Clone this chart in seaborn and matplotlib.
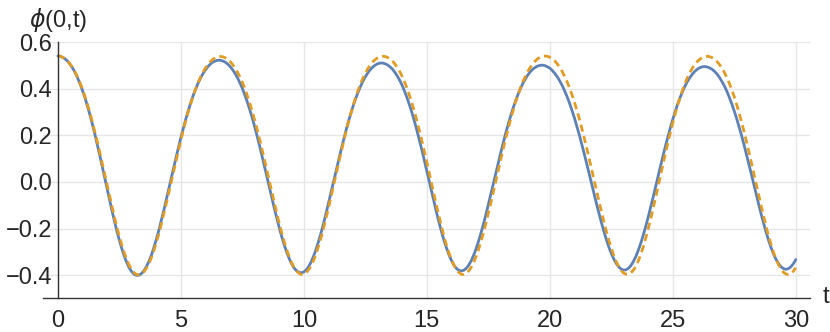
import numpy as np
import pandas as pd
import matplotlib
matplotlib.use("Agg")
import matplotlib.pyplot as plt
import seaborn as sns
from matplotlib.ticker import MultipleLocator

# time samples (t = 0 ... 30, step 0.1)
t_values = np.linspace(0, 30, 301)

# phi(0,t), in thousandths
blue_milli = [
    540, 539, 534, 527, 517, 504, 488, 469, 446, 421,
    392, 361, 326, 288, 248, 206, 161, 115, 67, 19,
    -29, -77, -124, -169, -212, -251, -287, -319, -346, -369,
    -385, -396, -401, -400, -393, -381, -363, -341, -314, -282,
    -247, -209, -167, -124, -79, -34, 12, 58, 104, 148,
    191, 231, 270, 306, 340, 371, 399, 424, 446, 465,
    481, 495, 506, 514, 519, 522, 522, 519, 514, 506,
    495, 482, 466, 447, 425, 401, 373, 343, 310, 275,
    237, 196, 155, 111, 66, 21, -24, -69, -114, -156,
    -197, -235, -270, -301, -328, -351, -369, -381, -388, -390,
    -386, -377, -362, -342, -317, -288, -254, -218, -178, -136,
    -92, -48, -2, 43, 88, 132, 175, 216, 255, 291,
    325, 356, 384, 409, 432, 451, 468, 482, 493, 501,
    507, 510, 510, 507, 502, 494, 484, 470, 454, 435,
    413, 387, 359, 328, 295, 258, 219, 178, 136, 91,
    46, 1, -45, -90, -134, -176, -215, -252, -284, -313,
    -337, -357, -371, -379, -382, -379, -371, -357, -339, -315,
    -287, -255, -219, -181, -140, -97, -53, -9, 36, 81,
    124, 166, 207, 245, 281, 315, 346, 374, 399, 422,
    441, 458, 472, 483, 491, 497, 500, 501, 499, 494,
    488, 478, 466, 451, 434, 414, 391, 366, 338, 307,
    274, 238, 201, 161, 120, 78, 35, -9, -52, -95,
    -136, -176, -213, -248, -280, -307, -331, -350, -364, -374,
    -378, -377, -370, -358, -341, -319, -292, -262, -227, -190,
    -150, -108, -65, -20, 24, 68, 112, 154, 194, 233,
    269, 303, 335, 363, 389, 412, 432, 449, 463, 475,
    484, 490, 494, 495, 493, 489, 483, 474, 462, 448,
    430, 411, 388, 362, 334, 303, 270, 234, 197, 157,
    115, 73, 30, -14, -57, -100, -142, -181, -218, -253,
    -284, -311, -333, -351, -364, -372, -375, -372, -364, -351,
    -333,
]

orange_milli = [
    540, 539, 534, 528, 518, 505, 490, 471, 449, 425,
    397, 366, 333, 297, 258, 216, 173, 128, 81, 34,
    -13, -61, -107, -152, -195, -235, -272, -305, -334, -358,
    -376, -390, -397, -399, -395, -385, -370, -350, -325, -295,
    -261, -224, -183, -140, -95, -49, -3, 44, 90, 136,
    180, 223, 263, 301, 336, 369, 399, 426, 450, 471,
    489, 504, 516, 526, 533, 537, 538, 537, 533, 526,
    517, 504, 489, 471, 451, 427, 400, 370, 338, 303,
    265, 225, 183, 139, 94, 48, 1, -45, -91, -136,
    -179, -219, -256, -290, -320, -346, -367, -382, -392, -397,
    -396, -389, -376, -358, -335, -307, -274, -238, -199, -156,
    -112, -66, -19, 28, 75, 121, 166, 210, 251, 290,
    327, 361, 392, 420, 445, 467, 486, 502, 515, 525,
    532, 537, 539, 538, 534,
    528, 519, 506, 491, 473, 452, 427, 400, 369, 336,
    299, 260, 219, 175, 130, 84, 36, -12, -59, -106,
    -151, -194, -235, -272, -305, -333, -357, -376, -388, -396,
    -397, -392, -382, -367, -346, -320, -290, -256, -219, -178,
    -135, -90, -45, 2, 49, 95, 140, 184, 226, 267,
    304, 340, 372, 402, 429, 452, 473, 491, 506, 518,
    528, 535, 539, 540, 539, 535, 528, 519, 507, 492,
    474, 453, 430, 403, 374, 342, 307, 270, 230, 188,
    145, 100, 54, 8, -39, -84, -129, -172, -213, -251,
    -285, -316, -342, -363, -380, -391, -396, -396, -390, -378,
    -361, -338, -310, -278, -241, -201, -159, -114, -67, -19,
    28, 76, 123, 169, 213, 255, 294, 331, 365, 396,
    424, 449, 471, 489, 505, 517, 527, 534, 538, 539,
    537, 533, 526, 516, 503, 487, 469, 447, 422, 395,
    364, 330, 294, 255, 214, 171, 126, 80, 33, -14,
    -61, -107, -152, -195, -234, -271, -304, -332, -356, -374,
    -388, -395, -397, -393, -383, -368,
]

x_ticks = [0, 5, 10, 15, 20, 25, 30]
y_ticks = [-0.4, -0.2, 0.0, 0.2, 0.4, 0.6]
y_tick_labels = ['\u22120.4', '\u22120.2', '0.0', '0.2', '0.4', '0.6']

df = pd.DataFrame({
    't': t_values,
    'blue': np.array(blue_milli) / 1000.0,
    'orange': np.array(orange_milli) / 1000.0,
})

sns.set_style("white")
plt.rcParams['font.family'] = ['Liberation Sans', 'DejaVu Sans']
plt.rcParams['mathtext.fontset'] = 'dejavusans'

fig = plt.figure(figsize=(8.3, 3.32), dpi=100)
ax = fig.add_axes([0.0514, 0.101, 0.9246, 0.773])
sns.lineplot(data=df, x='t', y='blue', ax=ax, color='#5E81B5', lw=2.0)
sns.lineplot(data=df, x='t', y='orange', ax=ax, color='#E19C24', lw=2.0,
             linestyle=(0, (2.6, 1.6)))
ax.set_xlim(-0.62, 30.58)
ax.set_ylim(-0.5, 0.601)

for s in ['top', 'right']:
    ax.spines[s].set_visible(False)
ax.spines['left'].set_position(('data', 0))
for s in ['left', 'bottom']:
    ax.spines[s].set_color('#333333')
    ax.spines[s].set_linewidth(1.0)

ax.set_xticks(x_ticks)
ax.set_yticks(y_ticks)
ax.set_yticklabels(y_tick_labels)
ax.xaxis.set_minor_locator(MultipleLocator(1))
ax.yaxis.set_minor_locator(MultipleLocator(0.05))
ax.tick_params(which='major', direction='in', length=5, width=0.9, color='#333333', labelsize=17)
ax.tick_params(which='minor', direction='in', length=3, width=0.8, color='#333333')
ax.tick_params(axis='x', which='major', pad=8)
ax.tick_params(axis='y', which='major', pad=4)
ax.grid(True, which='major', color='#e6e6e6', lw=1.0)
ax.set_axisbelow(True)
ax.set_xlabel('')
ax.set_ylabel('')

fig.text(58 / 830, 1 - 20 / 332, r'$\phi$(0,t)', ha='center', va='center', fontsize=17)
fig.text(826 / 830, 1 - 297 / 332, 't', ha='center', va='center', fontsize=17)

fig.savefig('out.png', dpi=100)
